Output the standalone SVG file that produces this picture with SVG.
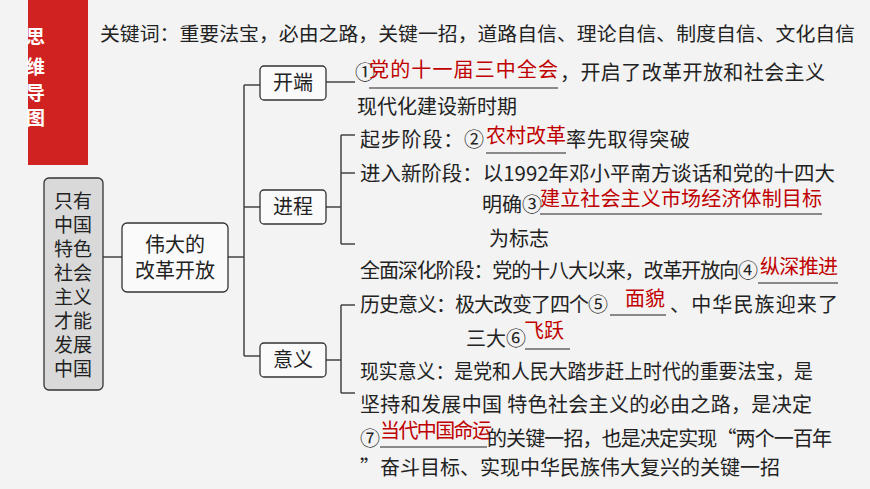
<svg xmlns="http://www.w3.org/2000/svg" width="870" height="489" viewBox="0 0 870 489">
<style>
text{font-family:"Noto Sans CJK SC","Liberation Sans",sans-serif;font-size:20px;fill:#222}
.r{fill:#c00000}
.w{fill:#fff;font-weight:bold;font-size:19px}
.box{fill:#fafafa;stroke:#333;stroke-width:1.3}
.ln{stroke:#444;stroke-width:1.5;fill:none}
.ul{stroke:#222;stroke-width:1.2}
</style>
<rect width="870" height="489" fill="#f3f3f3"/>
<rect x="28" y="0" width="60" height="165" fill="#d12222"/>
<text class="w" x="26" y="44">思</text>
<text class="w" x="26" y="74">维</text>
<text class="w" x="26" y="100">导</text>
<text class="w" x="26" y="125">图</text>
<text x="100" y="41" style="font-size:19px" textLength="755" lengthAdjust="spacingAndGlyphs">关键词：重要法宝，必由之路，关键一招，道路自信、理论自信、制度自信、文化自信</text>
<g id="connectors">
<path class="ln" d="M103 257H122M228 257H244M244 85V356M244 85H260M244 207H260M244 356H260M326 82H355M326 207H341M341 135V244M341 135H355M341 173H355M341 244H355M326 360H341M341 305V393M341 305H355M341 393H355"/>
</g>
<g id="root"><rect x="44" y="178" width="59" height="212" rx="5" fill="#d9d9d9" stroke="#333" stroke-width="1.3"/>
<g style="font-size:19px"><text x="54" y="208" style="font-size:19px">只有</text><text x="54" y="232" style="font-size:19px">中国</text><text x="54" y="256" style="font-size:19px">特色</text><text x="54" y="280" style="font-size:19px">社会</text><text x="54" y="304" style="font-size:19px">主义</text><text x="54" y="328" style="font-size:19px">才能</text><text x="54" y="352" style="font-size:19px">发展</text><text x="54" y="376" style="font-size:19px">中国</text></g></g>
<g id="main"><rect class="box" x="122" y="223" width="106" height="69" rx="5"/><text x="145" y="252">伟大的</text><text x="135" y="278">改革开放</text></g>
<g id="n1"><rect class="box" x="260" y="66" width="66" height="34" rx="4"/><text x="273" y="90">开端</text></g>
<g id="n2"><rect class="box" x="260" y="190" width="66" height="34" rx="4"/><text x="273" y="214">进程</text></g>
<g id="n3"><rect class="box" x="260" y="343" width="66" height="34" rx="4"/><text x="273" y="367">意义</text></g>
<g id="texts">
<text x="355" y="80">①</text><text class="r" x="369" y="77" textLength="189">党的十一届三中全会</text><line class="ul" x1="369" y1="88" x2="558" y2="88"/><text x="560" y="80" textLength="265">，开启了改革开放和社会主义</text>
<text x="357" y="114">现代化建设新时期</text>
<text x="360" y="147" textLength="124">起步阶段：②</text><text class="r" x="486" y="143" textLength="80">农村改革</text><line class="ul" x1="486" y1="153" x2="566" y2="153"/><text x="566" y="147" textLength="124">率先取得突破</text>
<text x="360" y="181" textLength="475" lengthAdjust="spacingAndGlyphs">进入新阶段：以1992年邓小平南方谈话和党的十四大</text>
<text x="482" y="212">明确③</text><text class="r" x="540" y="206" textLength="282">建立社会主义市场经济体制目标</text><line class="ul" x1="540" y1="214" x2="822" y2="214"/>
<text x="489" y="246">为标志</text>
<text x="360" y="278" textLength="398">全面深化阶段：党的十八大以来，改革开放向④</text><text class="r" x="760" y="274" textLength="78">纵深推进</text><line class="ul" x1="758" y1="283" x2="838" y2="283"/>
<text x="360" y="312" textLength="248">历史意义：极大改变了四个⑤</text><text class="r" x="625" y="306">面貌</text><line class="ul" x1="610" y1="315" x2="666" y2="315"/><text x="670" y="312" textLength="168">、中华民族迎来了</text>
<text x="466" y="346">三大⑥</text><text class="r" x="524" y="338">飞跃</text><line class="ul" x1="525" y1="349" x2="570" y2="349"/>
<text x="360" y="379" textLength="453" lengthAdjust="spacingAndGlyphs">现实意义：是党和人民大踏步赶上时代的重要法宝，是</text>
<text x="360" y="412" textLength="452">坚持和发展中国  特色社会主义的必由之路，是决定</text>
<text x="360" y="446">⑦</text><text class="r" x="380" y="438" textLength="112">当代中国命运</text><line class="ul" x1="380" y1="447" x2="487" y2="447"/><text x="487" y="446" textLength="345">的关键一招，也是决定实现“两个一百年</text>
<text x="360" y="475" textLength="420">”奋斗目标、实现中华民族伟大复兴的关键一招</text>
</g>
</svg>
